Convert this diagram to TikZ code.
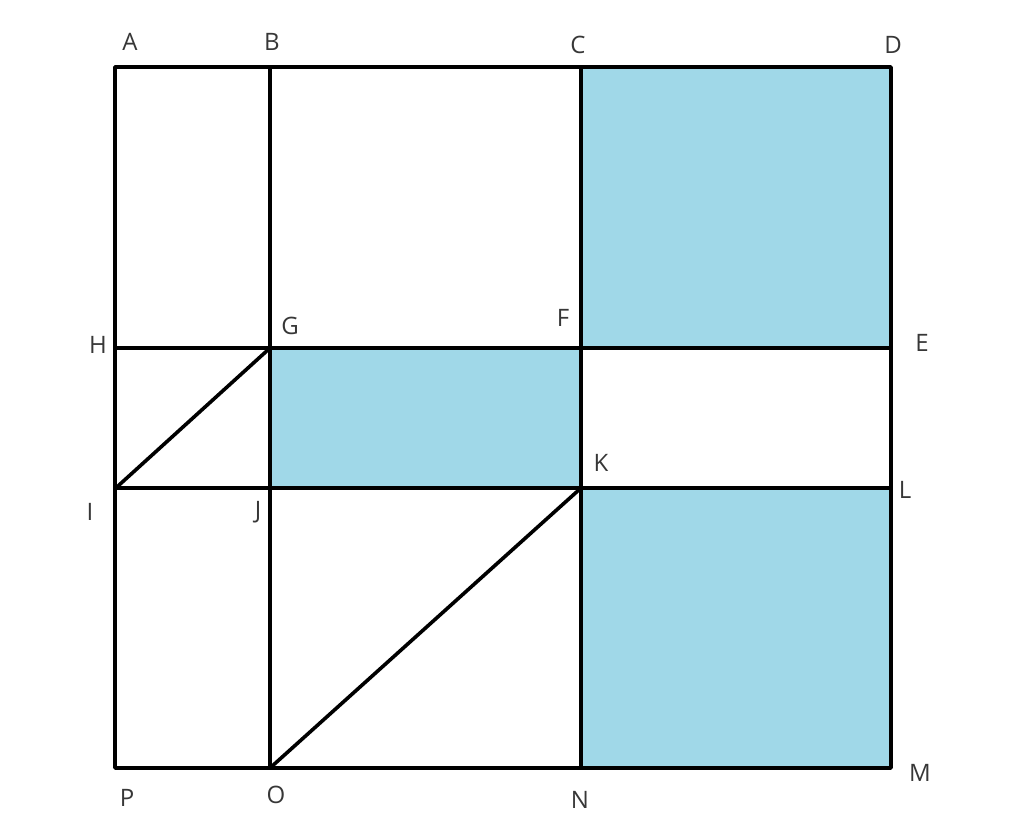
\documentclass[tikz,border=0pt]{standalone}
\usepackage{fontspec}
\setmainfont{Open Sans}
\definecolor{skyfill}{RGB}{160,216,232}
\definecolor{lbl}{RGB}{55,55,55}
\begin{document}
\begin{tikzpicture}[x=1pt,y=-1pt,
  edge/.style={line width=3.6pt,line cap=round,line join=round,black},
  shade/.style={fill=skyfill},
  lab/.style={text=lbl,font=\fontsize{24}{24}\selectfont,inner sep=0pt}]
\useasboundingbox (0,0) rectangle (1010,836);
\fill[white] (0,0) rectangle (1010,836);
% points
\coordinate (A) at (115,67);
\coordinate (B) at (270,67);
\coordinate (C) at (581,67);
\coordinate (D) at (891,67);
\coordinate (H) at (115,348);
\coordinate (G) at (270,348);
\coordinate (F) at (581,348);
\coordinate (E) at (891,348);
\coordinate (I) at (118,486);
\coordinate (I0) at (115,488);
\coordinate (J) at (270,488);
\coordinate (K) at (581,488);
\coordinate (L) at (891,488);
\coordinate (P) at (115,768);
\coordinate (O) at (270,768);
\coordinate (N) at (581,768);
\coordinate (M) at (891,768);
% fills
\fill[shade] (C) rectangle (E);
\fill[shade] (G) rectangle (K);
\fill[shade] (K) rectangle (M);
% lines
\draw[edge] (A) rectangle (M);
\draw[edge] (B) -- (O);
\draw[edge] (C) -- (N);
\draw[edge] (H) -- (E);
\draw[edge] (I0) -- (L);
\draw[edge] (G) -- (I);
\draw[edge] (K) -- (O);
% labels
\node[lab] (lA) at (130,42) {A};
\node[lab] (lB) at (272,42) {B};
\node[lab] (lC) at (578,45) {C};
\node[lab] (lD) at (893,45) {D};
\node[lab] (lH) at (98,345) {H};
\node[lab] (lG) at (290,326) {G};
\node[lab] (lF) at (563,318) {F};
\node[lab] (lE) at (922,343) {E};
\node[lab] (lI) at (90,512) {I};
\node[lab] (lJ) at (258,512) {J};
\node[lab] (lK) at (601,463) {K};
\node[lab] (lL) at (905,490) {L};
\node[lab] (lP) at (127,798) {P};
\node[lab] (lO) at (276,795) {O};
\node[lab] (lN) at (580,800) {N};
\node[lab] (lM) at (920,773) {M};
\end{tikzpicture}
\end{document}
